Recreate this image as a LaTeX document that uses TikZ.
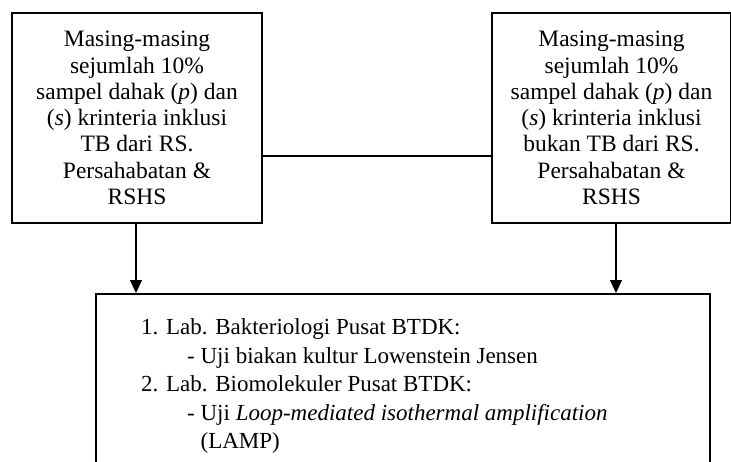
\documentclass[tikz,border=0pt]{standalone}
\usepackage{fontspec}
\setmainfont{Liberation Serif}
\usetikzlibrary{arrows.meta}
\begin{document}
\begin{tikzpicture}[x=1pt,y=-1pt,
  box/.style={draw, line width=1.8pt, inner sep=0pt, align=center, font=\fontsize{23.5}{26.3}\selectfont},
  link/.style={line width=1.2pt},
  arr/.style={line width=1.2pt, -{Triangle[length=13pt,width=12pt]}}]
\path[use as bounding box, clip] (0,0) rectangle (731,461);
\node[box, minimum width=250pt, minimum height=210pt] (left) at (137,118)
  {Masing-masing\\sejumlah 10\%\\sampel dahak (\textit{p}) dan\\(\textit{s}) krinteria inklusi\\TB dari RS.\\Persahabatan \&\\RSHS};
\node[box, minimum width=239pt, minimum height=210pt] (right) at (611.5,118)
  {Masing-masing\\sejumlah 10\%\\sampel dahak (\textit{p}) dan\\(\textit{s}) krinteria inklusi\\bukan TB dari RS.\\Persahabatan \&\\RSHS};
\node[draw, line width=1.8pt, inner sep=0pt, minimum width=614pt, minimum height=180pt, anchor=north west] (lab) at (95,293) {};
\node[anchor=north west, inner sep=0pt, align=left, font=\fontsize{23}{28.6}\selectfont] (labtext) at (141,318.3)
  {1. Lab. Bakteriologi Pusat BTDK:\\
   \hspace*{46pt}- Uji biakan kultur Lowenstein Jensen\\
   2. Lab. Biomolekuler Pusat BTDK:\\
   \hspace*{46pt}- Uji \textit{Loop-mediated isothermal amplification}\\
   \hspace*{46pt}\phantom{- }(LAMP)};
\draw[link] ([yshift=-38pt]left.east) -- ([yshift=-38pt]right.west);
\coordinate (ltop) at ([xshift=-1pt]left.south);
\coordinate (rtop) at ([xshift=4.5pt]right.south);
\draw[arr] (ltop) -- (ltop |- lab.north);
\draw[arr] (rtop) -- (rtop |- lab.north);
\end{tikzpicture}
\end{document}
